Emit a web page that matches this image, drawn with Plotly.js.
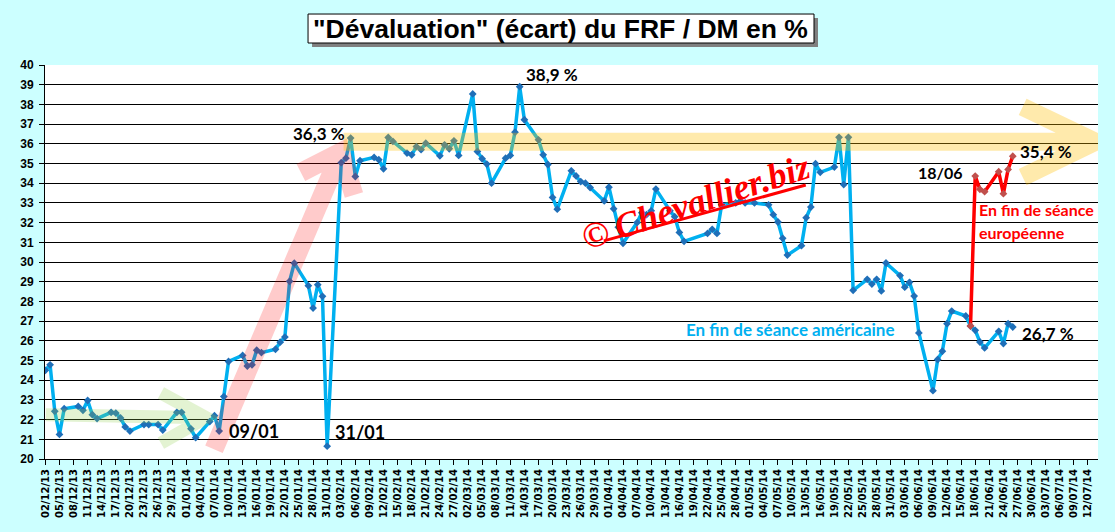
<!DOCTYPE html>
<html>
<head>
<meta charset="utf-8">
<script src="https://cdn.plot.ly/plotly-3.0.1.min.js"></script>
<style>
  html, body { margin: 0; padding: 0; background: #ccffff; }
  #chart { width: 1115px; height: 532px; }
</style>
</head>
<body>
<div id="chart"></div>
<script>
// FRF / DM "devaluation" gap, daily closes
var usDates = [
  "2013-12-02", "2013-12-03", "2013-12-04", "2013-12-05", "2013-12-06",
  "2013-12-09", "2013-12-10", "2013-12-11", "2013-12-12", "2013-12-13",
  "2013-12-16", "2013-12-17", "2013-12-18", "2013-12-19", "2013-12-20",
  "2013-12-23", "2013-12-24", "2013-12-26", "2013-12-27",
  "2013-12-30", "2013-12-31", "2014-01-02", "2014-01-03",
  "2014-01-06", "2014-01-07", "2014-01-08", "2014-01-09", "2014-01-10",
  "2014-01-13", "2014-01-14", "2014-01-15", "2014-01-16", "2014-01-17",
  "2014-01-20", "2014-01-21", "2014-01-22", "2014-01-23", "2014-01-24",
  "2014-01-27", "2014-01-28", "2014-01-29", "2014-01-30", "2014-01-31",
  "2014-02-03", "2014-02-04", "2014-02-05", "2014-02-06", "2014-02-07",
  "2014-02-10", "2014-02-11", "2014-02-12", "2014-02-13", "2014-02-14",
  "2014-02-17", "2014-02-18", "2014-02-19", "2014-02-20", "2014-02-21",
  "2014-02-24", "2014-02-25", "2014-02-26", "2014-02-27", "2014-02-28",
  "2014-03-03", "2014-03-04", "2014-03-05", "2014-03-06", "2014-03-07",
  "2014-03-10", "2014-03-11", "2014-03-12", "2014-03-13", "2014-03-14",
  "2014-03-17", "2014-03-18", "2014-03-19", "2014-03-20", "2014-03-21",
  "2014-03-24", "2014-03-25", "2014-03-26", "2014-03-27", "2014-03-28",
  "2014-03-31", "2014-04-01", "2014-04-02", "2014-04-03", "2014-04-04",
  "2014-04-07", "2014-04-08", "2014-04-09", "2014-04-10", "2014-04-11",
  "2014-04-14", "2014-04-15", "2014-04-16", "2014-04-17",
  "2014-04-22", "2014-04-23", "2014-04-24", "2014-04-25",
  "2014-04-28", "2014-04-29", "2014-04-30", "2014-05-02",
  "2014-05-05", "2014-05-06", "2014-05-07", "2014-05-08", "2014-05-09",
  "2014-05-12", "2014-05-13", "2014-05-14", "2014-05-15", "2014-05-16",
  "2014-05-19", "2014-05-20", "2014-05-21", "2014-05-22", "2014-05-23",
  "2014-05-26", "2014-05-27", "2014-05-28", "2014-05-29", "2014-05-30",
  "2014-06-02", "2014-06-03", "2014-06-04", "2014-06-05", "2014-06-06",
  "2014-06-09", "2014-06-10", "2014-06-11", "2014-06-12", "2014-06-13",
  "2014-06-16", "2014-06-17", "2014-06-18", "2014-06-19", "2014-06-20",
  "2014-06-23", "2014-06-24", "2014-06-25", "2014-06-26"
];
var usValues = [
  24.5, 24.78, 22.42, 21.25, 22.55,
  22.67, 22.47, 22.97, 22.25, 22.05,
  22.37, 22.33, 22.08, 21.63, 21.42,
  21.75, 21.75, 21.75, 21.47,
  22.37, 22.37, 21.53, 21.08,
  21.9, 22.2, 21.42, 23.17, 24.95,
  25.26, 24.72, 24.78, 25.52, 25.4,
  25.57, 25.93, 26.19, 29.02, 29.94,
  28.8, 27.66, 28.85, 28.26, 20.65,
  35.04, 35.27, 36.29, 34.34, 35.14,
  35.31, 35.19, 34.73, 36.32, 36.12,
  35.53, 35.44, 35.86, 35.7, 36.03,
  35.39, 35.95, 35.75, 36.15, 35.41,
  38.53, 35.61, 35.24, 34.97, 34.0,
  35.27, 35.41, 36.59, 38.9, 37.22,
  36.2, 35.44, 34.95, 33.28, 32.68,
  34.63, 34.37, 34.08, 34.0, 33.78,
  33.1, 33.8, 32.7, 31.77, 30.95,
  32.0, 32.5, 32.4, 32.6, 33.7,
  32.6, 32.3, 31.5, 31.05,
  31.45, 31.66, 31.45, 32.9,
  33.0, 33.1, 33.0, 33.0,
  32.9, 32.4, 32.03, 31.2, 30.35,
  30.83, 32.25, 32.79, 34.99, 34.55,
  34.82, 36.33, 33.93, 36.33, 28.56,
  29.12, 28.88, 29.12, 28.53, 29.95,
  29.31, 28.72, 28.97, 28.27, 26.4,
  23.47, 25.05, 25.47, 26.87, 27.51,
  27.26, 26.75, 26.53, 25.94, 25.64,
  26.48, 25.86, 26.87, 26.7
];
var euDates = ["2014-06-17", "2014-06-18", "2014-06-19", "2014-06-20",
               "2014-06-23", "2014-06-24", "2014-06-25", "2014-06-26"];
var euValues = [26.75, 34.36, 33.69, 33.57, 34.58, 33.47, 34.7, 35.37];

// x ticks: every 3 days, dd/mm/yy
var T0 = Date.UTC(2013, 11, 2);
var DAY = 864e5;
var tickVals = [], tickText = [];
for (var t = T0; t <= Date.UTC(2014, 6, 12); t += 3 * DAY) {
  var d = new Date(t);
  tickVals.push(t);
  tickText.push(pad(d.getUTCDate()) + "/" + pad(d.getUTCMonth() + 1) + "/" + pad(d.getUTCFullYear() % 100));
}
function pad(n) { return (n < 10 ? "0" : "") + n; }

// arrows drawn over the line: [day offset from 02/12/13, value]
function arrow(start, tip, armA, armB, color, width, opacity) {
  function p(pt) { return (T0 + pt[0] * DAY) + "," + pt[1]; }
  return {
    type: "path", xref: "x", yref: "y", layer: "above",
    path: "M" + p(armA) + " L" + p(tip) + " L" + p(armB) + " M" + p(start) + " L" + p(tip),
    line: { color: color, width: width }, fillcolor: "rgba(0,0,0,0)", opacity: opacity
  };
}
function box(x0, y0, x1, y1, fill, lineColor) {
  return { type: "rect", xref: "paper", yref: "paper", x0: x0, y0: y0, x1: x1, y1: y1,
           fillcolor: fill, line: { color: lineColor, width: lineColor ? 1 : 0 } };
}

var FAM = "Lato, 'Liberation Sans', sans-serif";
function f(size, color) { return { family: FAM, size: size, color: color || "#000", weight: "bold" }; }
function lbl(text, x, y, opts) {
  var a = { text: text, x: x, y: y, xref: "x", yref: "y", showarrow: false, font: f(17),
            xanchor: "left", yanchor: "middle" };
  for (var k in opts) { a[k] = opts[k]; }
  return a;
}

var traces = [
  {
    x: usDates, y: usValues, type: "scatter", mode: "lines+markers", name: "US",
    line: { color: "#00b0f0", width: 3.5 },
    marker: { symbol: "diamond", size: 6, color: "#1f6fb8", line: { width: 0 } }
  },
  {
    x: euDates, y: euValues, type: "scatter", mode: "lines+markers", name: "EU",
    line: { color: "#ff0000", width: 3.5 },
    marker: { symbol: "diamond", size: 6, color: "#c0504d", line: { width: 0 } }
  }
];

var layout = {
  width: 1115, height: 532,
  margin: { l: 45, r: 17, t: 65, b: 73 },
  paper_bgcolor: "#ccffff", plot_bgcolor: "#ffffff",
  showlegend: false,
  xaxis: {
    type: "date", range: ["2013-12-01 22:00", "2014-07-14 03:30"],
    tickmode: "array", tickvals: tickVals, ticktext: tickText, tickangle: -90,
    ticks: "outside", ticklen: 5, tickcolor: "#000", showgrid: false,
    showline: true, linecolor: "#000", linewidth: 1, zeroline: false,
    tickfont: { family: "'DejaVu Sans', sans-serif", size: 10, color: "#000", weight: "bold" }
  },
  yaxis: {
    range: [20, 40], dtick: 1, showgrid: true, gridcolor: "#000", gridwidth: 1,
    ticks: "outside", ticklen: 5, tickcolor: "#000", ticklabelstandoff: 3,
    showline: true, linecolor: "#000", linewidth: 1, zeroline: false,
    tickfont: { family: "'Liberation Sans', Arial, sans-serif", size: 12, color: "#000", weight: "bold" }
  },
  shapes: [
    box(0.2536, 1.0457, 0.7341, 1.1193, "#808080", null),
    box(0.2498, 1.0558, 0.7303, 1.1294, "#ffffff", "#000"),
    arrow([0.1, 22.25], [34.2, 22.1], [24.6, 23.35], [24.6, 20.81], "#92d050", 13, 0.25),
    arrow([35.9, 20.5], [62.9, 35.58], [54.4, 34.54], [65.7, 33.4], "#ff0000", 19, 0.2),
    arrow([63.5, 36.1], [223.6, 36.1], [208.1, 37.87], [208.1, 34.31], "#ffc000", 18, 0.32),
    { type: "line", xref: "x", yref: "y", layer: "above",
      x0: "2014-03-30 22:00", y0: 31.07, x1: "2014-05-12 22:00", y1: 33.91,
      line: { color: "#ff0000", width: 3 } }
  ],
  annotations: [
    { text: "\"Dévaluation\" (écart) du FRF / DM en %", xref: "paper", yref: "paper",
      x: 0.49, y: 1.0926, xanchor: "center", yanchor: "middle", showarrow: false,
      font: { family: "'Liberation Sans', Arial, sans-serif", size: 26.5, color: "#000", weight: "bold" } },
    lbl("36,3 %", "2014-02-05", 36.29, { xanchor: "right", xshift: -4, yshift: 5 }),
    lbl("38,9 %", "2014-03-13", 38.9, { xshift: 4, yshift: 12 }),
    lbl("09/01", "2014-01-08", 21.42, { xshift: 8, font: f(18) }),
    lbl("31/01", "2014-01-31", 20.65, { xshift: 6, yshift: 14, font: f(18) }),
    lbl("18/06", "2014-06-18", 34.36, { xanchor: "right", xshift: -10, yshift: 4, font: f(16) }),
    lbl("35,4 %", "2014-06-26", 35.37, { xshift: 5, yshift: 5 }),
    lbl("26,7 %", "2014-06-26", 26.7, { xshift: 7, yshift: -6 }),
    lbl("En fin de séance américaine", "2014-05-09 17:00", 26.55,
        { xanchor: "center", font: f(17, "#00b0f0") }),
    lbl("En fin de séance", "2014-06-18 07:00", 32.64, { font: f(16, "#ff0000") }),
    lbl("européenne", "2014-06-18 07:00", 31.52, { font: f(16, "#ff0000") }),
    lbl("©\u2009Chevallier.biz", "2014-04-19 12:00", 33.05,
        { xanchor: "center", textangle: -18,
          font: { family: "'Liberation Serif', serif", size: 36, color: "#ff0000", style: "italic", weight: "bold" } })
  ]
};

Plotly.newPlot("chart", traces, layout, { displayModeBar: false, staticPlot: true });
</script>
</body>
</html>
